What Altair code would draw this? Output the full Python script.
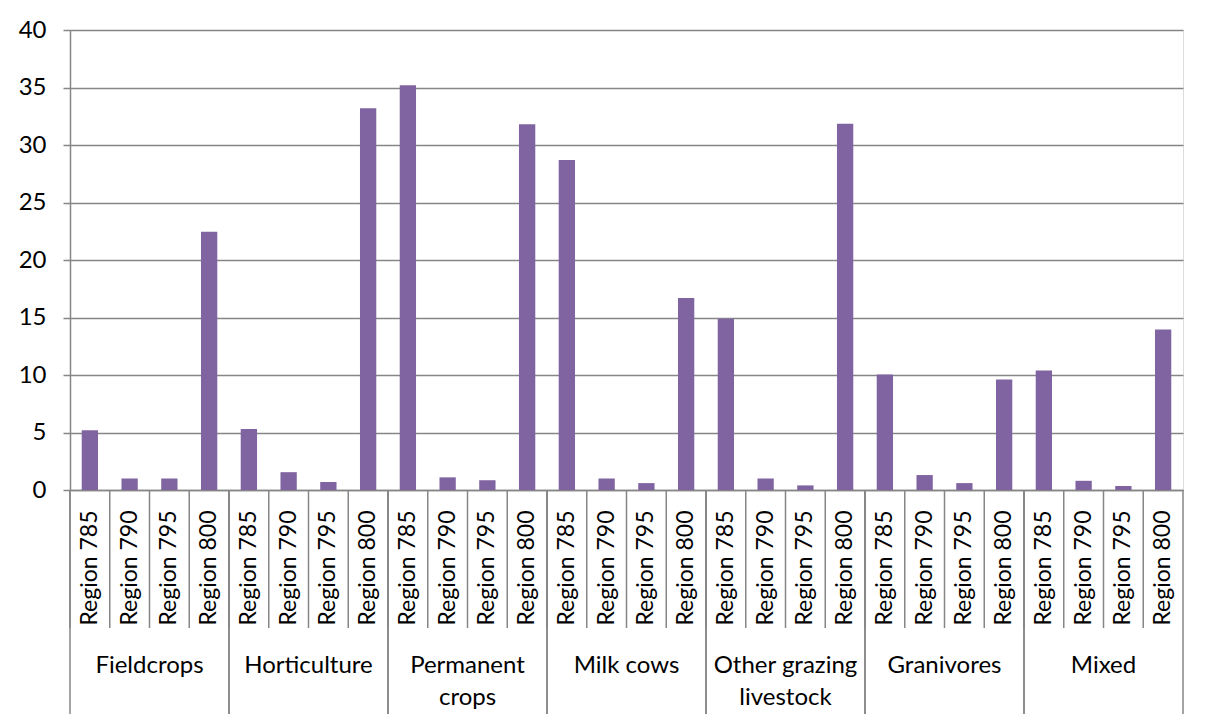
import altair as alt
import pandas as pd

groups = ["Fieldcrops", "Horticulture", "Permanent crops", "Milk cows",
          "Other grazing livestock", "Granivores", "Mixed"]
group_labels = ["Fieldcrops", "Horticulture", "Permanent\ncrops", "Milk cows",
                "Other grazing\nlivestock", "Granivores", "Mixed"]
regions = ["Region 785", "Region 790", "Region 795", "Region 800"]

fieldcrops = [5.2, 1.0, 1.0, 22.45]
horticulture = [5.3, 1.55, 0.7, 33.2]
permanent = [35.2, 1.1, 0.85, 31.8]
milk_cows = [28.7, 1.0, 0.6, 16.7]
other_grazing = [14.9, 1.0, 0.4, 31.85]
granivores = [10.05, 1.3, 0.6, 9.6]
mixed = [10.4, 0.8, 0.35, 13.95]

series = [fieldcrops, horticulture, permanent, milk_cows, other_grazing, granivores, mixed]

rows = []
for g, vals in zip(groups, series):
    for i, (r, v) in enumerate(zip(regions, vals)):
        rows.append({"key": f"{g}|{r}", "group": g, "region": r, "value": v,
                     "first": i == 0, "last": i == len(regions) - 1})
df = pd.DataFrame(rows)
keys = list(df["key"])

glab = pd.DataFrame({"key": [f"{g}|{regions[2]}" for g in groups], "label": group_labels})

W, H = 1113, 460
GRAY = "#868686"
FONT = "Lato"

xscale = alt.Scale(paddingInner=0, paddingOuter=0)
xaxis = alt.Axis(title=None, labelAngle=-90, labelExpr="split(datum.label, '|')[1]",
                 ticks=False, labelPadding=20, domainColor=GRAY, domainWidth=1.5,
                 labelFontSize=23, labelColor="#000000", labelFont=FONT, grid=False)

base = alt.Chart(df)

bars = base.mark_bar(color="#8064A2", width=alt.RelativeBandSize(0.41)).encode(
    x=alt.X("key:N", sort=keys, scale=xscale, axis=xaxis),
    y=alt.Y("value:Q", scale=alt.Scale(domain=[0, 40], nice=False),
            axis=alt.Axis(title=None, values=list(range(0, 41, 5)), grid=True,
                          gridColor=GRAY, gridWidth=1.5, domainColor=GRAY, domainWidth=1.5,
                          tickColor=GRAY, tickSize=7, tickWidth=1.5, labelPadding=17,
                          labelFontSize=24, labelColor="#000000", labelFont=FONT)),
)

short_sep = base.mark_rule(color=GRAY, strokeWidth=1.5).encode(
    x=alt.X("key:N", sort=keys, bandPosition=0),
    y=alt.value(H), y2=alt.value(H + 138),
)

long_sep_left = alt.Chart(df[df["first"]]).mark_rule(color=GRAY, strokeWidth=1.5).encode(
    x=alt.X("key:N", sort=keys, bandPosition=0),
    y=alt.value(H), y2=alt.value(H + 224),
)
long_sep_right = alt.Chart(df[df["last"]]).mark_rule(color=GRAY, strokeWidth=1.5).encode(
    x=alt.X("key:N", sort=keys, bandPosition=1),
    y=alt.value(H), y2=alt.value(H + 224),
)

group_text = alt.Chart(glab).mark_text(
    font=FONT, fontSize=24, color="#000000", baseline="top", align="center",
    lineBreak="\n", lineHeight=32,
).encode(
    x=alt.X("key:N", sort=keys, bandPosition=0),
    y=alt.value(H + 164),
    text="label:N",
)

chart = alt.layer(bars, short_sep, long_sep_left, long_sep_right, group_text).properties(
    width=W, height=H,
    autosize=alt.AutoSizeParams(type="none"),
    padding={"left": 62, "top": 22, "right": 15, "bottom": 229},
).configure_view(stroke=None).configure(background="white")

chart.save("out.html", embed_options={"renderer": "svg", "actions": False})
